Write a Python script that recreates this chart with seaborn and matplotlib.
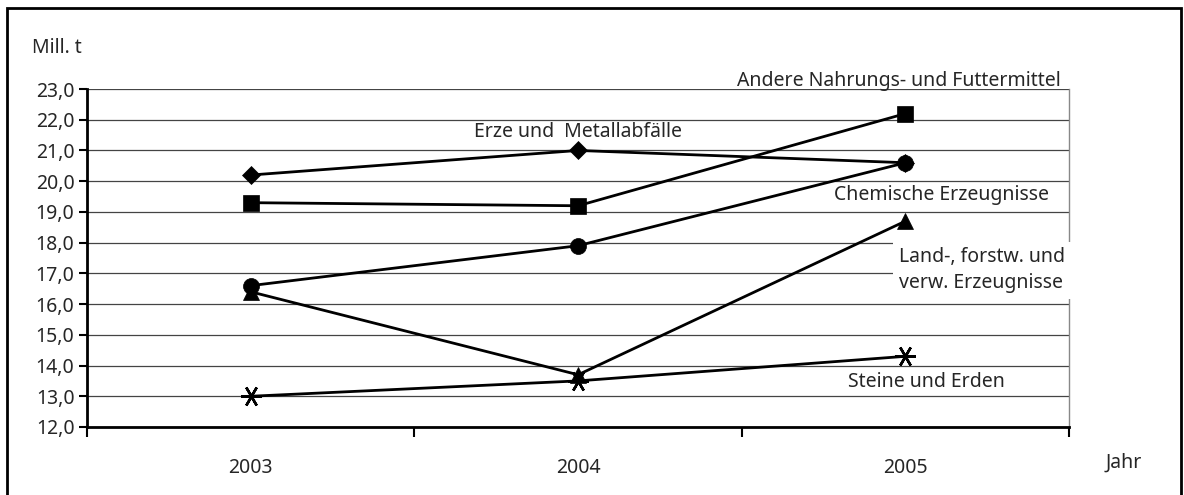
import pandas as pd
import matplotlib.pyplot as plt
import seaborn as sns
from matplotlib.patches import Rectangle
from matplotlib.ticker import FuncFormatter, FixedLocator

# Daten (Mill. t)
jahre = ['2003', '2004', '2005']
erze = [20.2, 21.0, 20.6]
nahrung = [19.3, 19.2, 22.2]
chemie = [16.6, 17.9, 20.6]
land = [16.4, 13.7, 18.7]
steine = [13.0, 13.5, 14.3]

reihen = {
    'Erze und  Metallabfälle': erze,
    'Andere Nahrungs- und Futtermittel': nahrung,
    'Chemische Erzeugnisse': chemie,
    'Land-, forstw. und\nverw. Erzeugnisse': land,
    'Steine und Erden': steine,
}

marker_stil = {
    'Erze und  Metallabfälle': ('D', 9.5),
    'Andere Nahrungs- und Futtermittel': ('s', 11.5),
    'Chemische Erzeugnisse': ('o', 11.5),
    'Land-, forstw. und\nverw. Erzeugnisse': ('^', 11.5),
    'Steine und Erden': ((6, 2, 90), 15),
}

df = pd.DataFrame([
    {'Jahr': j, 'Wert': w, 'Gruppe': name}
    for name, werte in reihen.items()
    for j, w in zip(jahre, werte)
])

sns.set_theme(style="white")
plt.rcParams['font.family'] = ['Noto Sans', 'DejaVu Sans']
FS = 14

fig = plt.figure(figsize=(11.84, 4.95), dpi=100)
ax = fig.add_axes([0.0735, 0.1374, 0.8295, 0.6828])

for name, (m, ms) in marker_stil.items():
    sub = df[df['Gruppe'] == name]
    sns.pointplot(data=sub, x='Jahr', y='Wert', order=jahre, color='black',
                  marker=m, markersize=ms, linewidth=2, errorbar=None, ax=ax,
                  markeredgewidth=1.8 if name == 'Steine und Erden' else 0.5)

ax.set_xlim(-0.5, 2.5)
ax.set_ylim(12, 23)
ax.yaxis.set_major_locator(FixedLocator([12 + i for i in range(12)]))
ax.yaxis.set_major_formatter(FuncFormatter(lambda v, p: f'{v:.1f}'.replace('.', ',')))
ax.grid(axis='y', color='#444444', linewidth=0.9)
ax.set_axisbelow(True)

for s in ['left', 'bottom']:
    ax.spines[s].set_color('black')
    ax.spines[s].set_linewidth(2)
ax.spines['top'].set_visible(False)
ax.spines['right'].set_color('#888888')
ax.spines['right'].set_linewidth(1)

ax.tick_params(axis='y', which='major', direction='out', length=6, width=1.5,
               color='black', labelsize=FS, left=True, pad=3)
ax.tick_params(axis='x', which='major', length=0, labelsize=FS, pad=22)
ax.set_xticks([-0.5, 0.5, 1.5, 2.5], minor=True)
ax.tick_params(axis='x', which='minor', direction='out', length=7, width=1.5,
               color='black', bottom=True)
ax.set_xlabel('')
ax.set_ylabel('')

# Beschriftungen der Reihen
ax.text(1.0, 21.6, 'Erze und  Metallabfälle', ha='center', va='center', fontsize=FS)
ax.text(1.98, 23.25, 'Andere Nahrungs- und Futtermittel', ha='center', va='center',
        fontsize=FS, clip_on=False)
ax.text(2.11, 19.55, 'Chemische Erzeugnisse', ha='center', va='center', fontsize=FS)
ax.text(1.98, 17.1, 'Land-, forstw. und\nverw. Erzeugnisse', ha='left', va='center',
        fontsize=FS, linespacing=1.4, clip_on=False,
        bbox=dict(facecolor='white', edgecolor='none', pad=4), zorder=5)
ax.text(2.065, 13.45, 'Steine und Erden', ha='center', va='center', fontsize=FS)

fig.text(32 / 1184, 1 - 48 / 495, 'Mill. t', ha='left', va='center', fontsize=FS)
fig.text(1124 / 1184, 1 - 463 / 495, 'Jahr', ha='center', va='center', fontsize=FS)

fig.patches.append(Rectangle((7 / 1184, -0.01), 1174 / 1184, 1 - 8 / 495 + 0.01,
                             transform=fig.transFigure, fill=False,
                             edgecolor='black', linewidth=2))

fig.savefig('out.png', dpi=100)
